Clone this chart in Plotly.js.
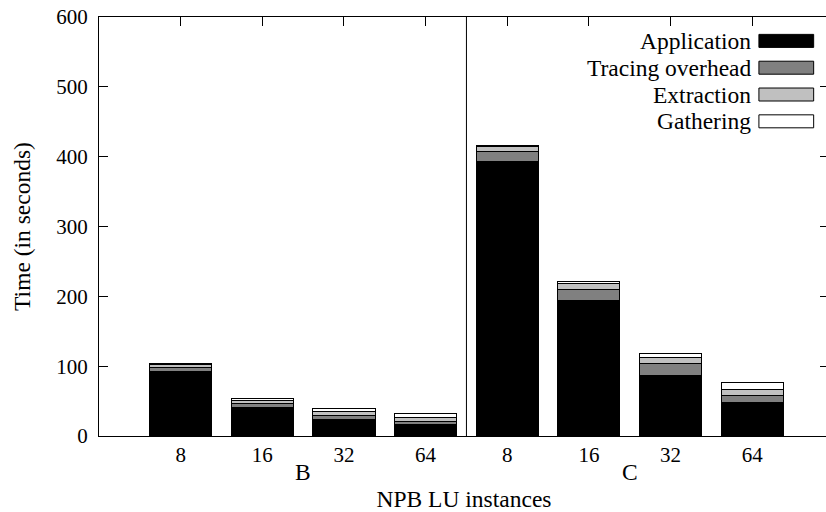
<!DOCTYPE html>
<html>
<head>
<meta charset="utf-8">
<script src="https://cdn.plot.ly/plotly-3.0.1.min.js"></script>
<style>
html,body{margin:0;padding:0;overflow:hidden;background:#fff;}
#chart{width:831px;height:512px;}
</style>
</head>
<body>
<div id="chart"></div>
<script>
// Data
var positions = [0, 1, 2, 3, 4, 5, 6, 7];
var tickLabels = ['8', '16', '32', '64', '8', '16', '32', '64'];
var yTicks = [0, 100, 200, 300, 400, 500, 600];
var groupLabels = ['B', 'C'];
var groupCenters = [1.5, 5.5];
var groupSeparator = 3.5;

var application = [93, 41, 24, 16, 393, 194, 87, 48];
var tracing     = [5, 5, 6, 5, 14, 16, 17, 10];
var extraction  = [4, 5, 5, 5, 7, 8, 9, 9];
var gathering   = [2, 3, 4, 6, 2, 3, 5, 10];

var seriesNames  = ['Application', 'Tracing overhead', 'Extraction', 'Gathering'];
var seriesValues = [application, tracing, extraction, gathering];
var seriesColors = ['#000000', '#808080', '#c0c0c0', '#ffffff'];

var FAMILY = '"Liberation Serif", "Times New Roman", serif';
var TICKFONT = {family: FAMILY, size: 21, color: '#000'};
var TEXTFONT = {family: FAMILY, size: 23.5, color: '#000'};

var traces = seriesNames.map(function (name, i) {
  return {
    type: 'bar',
    name: name,
    x: positions,
    y: seriesValues[i],
    marker: {color: seriesColors[i], line: {color: '#000', width: 1}},
    showlegend: false,
    hoverinfo: 'name+y'
  };
});

// Manual legend (text right-aligned, swatch on the right, like gnuplot)
var legendY = [0.943, 0.879, 0.815, 0.751];
var annotations = [];
var shapes = [];
seriesNames.forEach(function (name, i) {
  annotations.push({
    xref: 'paper', yref: 'paper', x: 0.896, y: legendY[i],
    xanchor: 'right', yanchor: 'middle', text: name, showarrow: false, font: TEXTFONT
  });
  shapes.push({
    type: 'rect', xref: 'paper', yref: 'paper',
    x0: 0.904, x1: 0.979, y0: legendY[i] - 0.0155, y1: legendY[i] + 0.0155,
    fillcolor: seriesColors[i], line: {color: '#000', width: 1}
  });
});
groupLabels.forEach(function (g, i) {
  annotations.push({
    xref: 'x', yref: 'paper', x: groupCenters[i], y: -0.086,
    xanchor: 'center', yanchor: 'middle', text: g, showarrow: false, font: TEXTFONT
  });
});
shapes.push({
  type: 'line', xref: 'x', yref: 'paper', x0: groupSeparator, x1: groupSeparator, y0: 0, y1: 1,
  line: {color: '#000', width: 1}
});

var layout = {
  width: 831, height: 512,
  margin: {l: 99, r: 2, t: 17, b: 76},
  paper_bgcolor: '#fff', plot_bgcolor: '#fff',
  font: TICKFONT,
  barmode: 'stack',
  bargap: 0.24,
  showlegend: false,
  xaxis: {
    range: [-1, 7.94],
    tickmode: 'array', tickvals: positions, ticktext: tickLabels,
    ticks: 'inside', ticklen: 9, tickcolor: '#000', tickwidth: 1,
    showline: true, linecolor: '#000', linewidth: 1, mirror: 'allticks',
    showgrid: false, zeroline: false,
    tickfont: TICKFONT,
    title: {text: 'NPB LU instances', font: TEXTFONT, standoff: 28}
  },
  yaxis: {
    range: [0, 600],
    tickmode: 'array', tickvals: yTicks,
    ticks: 'inside', ticklen: 9, tickcolor: '#000', tickwidth: 1,
    showline: true, linecolor: '#000', linewidth: 1, mirror: 'allticks',
    showgrid: false, zeroline: false,
    ticklabelstandoff: 6,
    tickfont: TICKFONT,
    title: {text: 'Time (in seconds)', font: TEXTFONT, standoff: 19}
  },
  annotations: annotations,
  shapes: shapes
};

Plotly.newPlot('chart', traces, layout, {displayModeBar: false, staticPlot: true});
</script>
</body>
</html>
